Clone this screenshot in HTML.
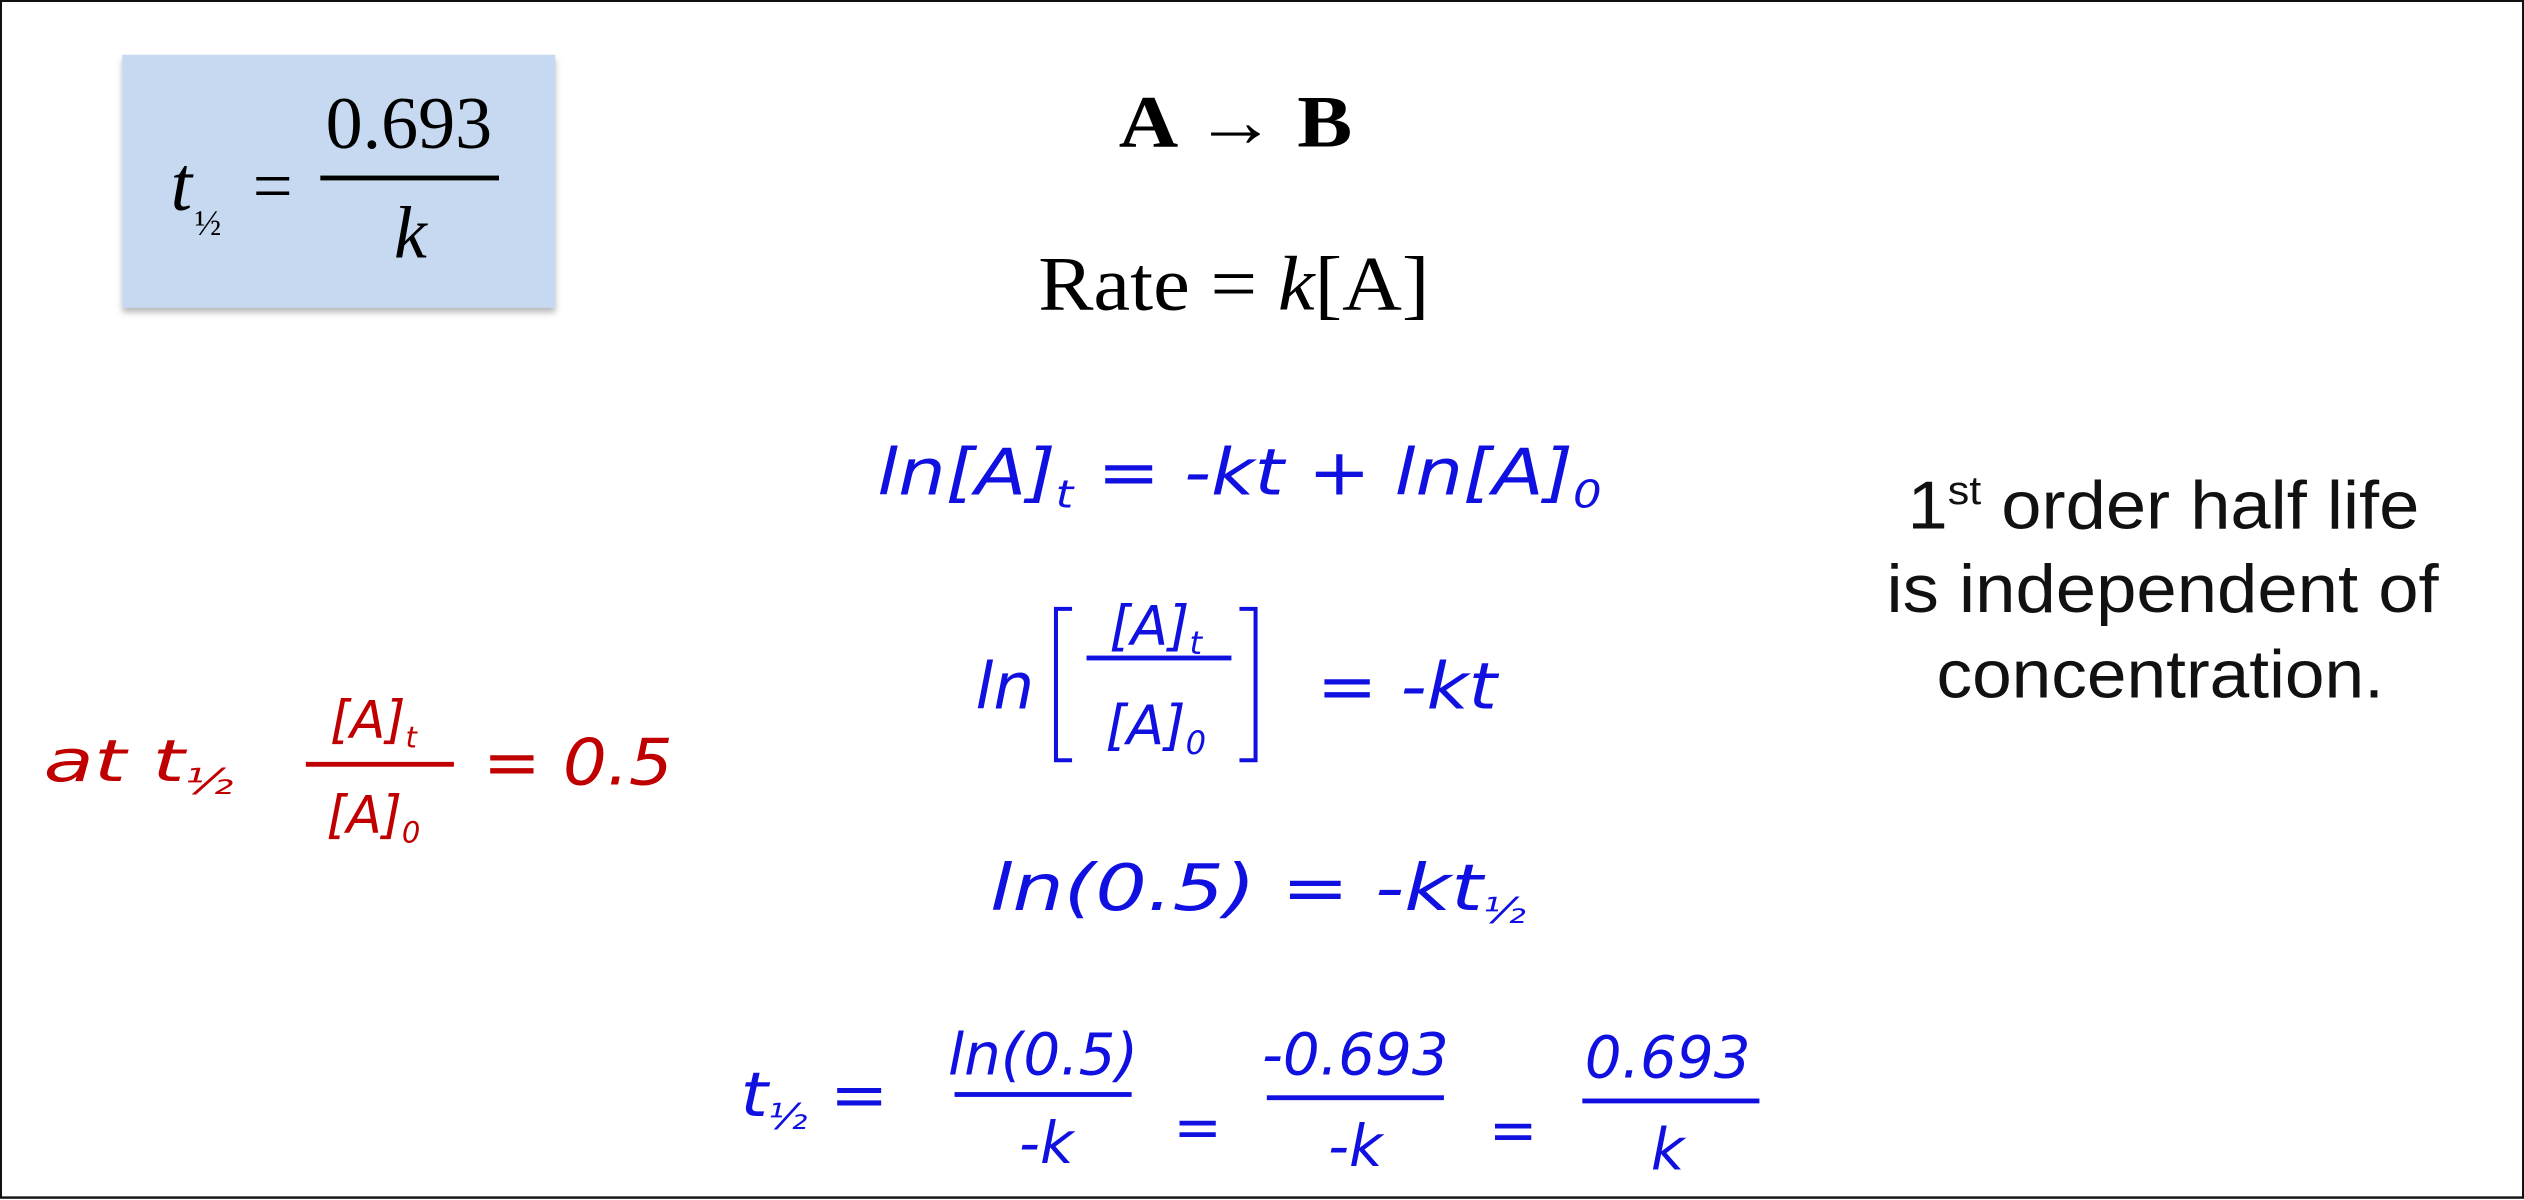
<!DOCTYPE html>
<html><head><meta charset="utf-8"><style>
html,body{margin:0;padding:0;background:#fff;}
svg{display:block;}
.serif{font-family:"Liberation Serif",serif;}
.hand{font-family:"DejaVu Sans","Liberation Sans",sans-serif;font-style:oblique;font-weight:normal;}
.sans{font-family:"Liberation Sans",sans-serif;}
</style></head><body>
<svg width="2524" height="1200" viewBox="0 0 1568 745" preserveAspectRatio="none" xmlns="http://www.w3.org/2000/svg">
<defs><filter id="sh" x="-10%" y="-10%" width="130%" height="130%"><feDropShadow dx="0" dy="3" stdDeviation="2" flood-color="#888" flood-opacity="0.6"/></filter></defs>
<rect x="0" y="0" width="1568" height="745" fill="#fff"/>
<rect x="0.5" y="0.5" width="1567" height="743" fill="none" stroke="#111" stroke-width="1.5"/>

<g>
<rect x="76" y="34" width="269" height="157" fill="#c6d9f0" filter="url(#sh)"/>
<text class="serif" x="106" y="130" font-size="48" font-style="italic">t</text>
<text class="serif" x="121" y="146" font-size="22">½</text>
<text class="serif" x="157" y="130" font-size="44">=</text>
<text class="serif" x="254" y="92" font-size="46" text-anchor="middle">0.693</text>
<rect x="199" y="109" width="111" height="3" fill="#000"/>
<text class="serif" x="255" y="160" font-size="46" font-style="italic" text-anchor="middle">k</text>
</g>

<text class="serif" x="695" y="91" font-size="46" font-weight="bold" textLength="145" lengthAdjust="spacingAndGlyphs">A → B</text>
<text class="serif" x="645" y="192" font-size="48" textLength="243" lengthAdjust="spacingAndGlyphs">Rate = <tspan font-style="italic">k</tspan>[A]</text>

<g fill="#1010e0" class="hand">
<text x="545" y="307" font-size="40" textLength="450" lengthAdjust="spacingAndGlyphs">ln[A]<tspan font-size="24" dy="8">t</tspan><tspan dy="-8"> = -kt + ln[A]</tspan><tspan font-size="24" dy="8">0</tspan></text>
<g>
<text x="606" y="440" font-size="40">ln</text>
<path d="M666 378 H656 V472 H666 M770 378 H780 V472 H770" fill="none" stroke="#1010e0" stroke-width="2.5"/>
<text x="718" y="400" font-size="34" text-anchor="middle">[A]<tspan font-size="20" dy="6">t</tspan></text>
<rect x="675" y="407" width="90" height="3"/>
<text x="718" y="462" font-size="34" text-anchor="middle">[A]<tspan font-size="20" dy="6">0</tspan></text>
<text x="818" y="440" font-size="40" textLength="112" lengthAdjust="spacingAndGlyphs">= -kt</text>
</g>
<text x="615" y="565" font-size="40" textLength="333" lengthAdjust="spacingAndGlyphs">ln(0.5)  = -kt<tspan font-size="22" dy="8">½</tspan></text>
<g>
<text x="460" y="693" font-size="38" textLength="92" lengthAdjust="spacingAndGlyphs">t<tspan font-size="22" dy="8">½</tspan><tspan dy="-8"> =</tspan></text>
<text x="648" y="667" font-size="36" text-anchor="middle">ln(0.5)</text>
<rect x="593" y="678" width="110" height="3"/>
<text x="650" y="722" font-size="36" text-anchor="middle">-k</text>
<text x="744" y="712" font-size="36" text-anchor="middle">=</text>
<text x="842" y="667" font-size="36" text-anchor="middle">-0.693</text>
<rect x="787" y="680" width="110" height="3"/>
<text x="842" y="724" font-size="36" text-anchor="middle">-k</text>
<text x="940" y="714" font-size="36" text-anchor="middle">=</text>
<text x="1036" y="669" font-size="36" text-anchor="middle">0.693</text>
<rect x="983" y="682" width="110" height="3"/>
<text x="1036" y="726" font-size="36" text-anchor="middle">k</text>
</g>
</g>

<g fill="#c00000" class="hand">
<text x="27" y="485" font-size="36" textLength="118" lengthAdjust="spacingAndGlyphs">at  t<tspan font-size="22" dy="8">½</tspan></text>
<text x="232" y="458" font-size="32" text-anchor="middle">[A]<tspan font-size="18" dy="6">t</tspan></text>
<rect x="190" y="473" width="92" height="3"/>
<text x="232" y="517" font-size="32" text-anchor="middle">[A]<tspan font-size="18" dy="6">0</tspan></text>
<text x="300" y="487" font-size="40" textLength="118" lengthAdjust="spacingAndGlyphs">= 0.5</text>
</g>

<g class="sans" font-size="42" fill="#111">
<text x="1185" y="328" textLength="318" lengthAdjust="spacingAndGlyphs">1<tspan font-size="25" dy="-15">st</tspan><tspan dy="15"> order half life</tspan></text>
<text x="1172" y="380" textLength="343" lengthAdjust="spacingAndGlyphs">is independent of</text>
<text x="1203" y="433" textLength="278" lengthAdjust="spacingAndGlyphs">concentration.</text>
</g>
</svg>
</body></html>
